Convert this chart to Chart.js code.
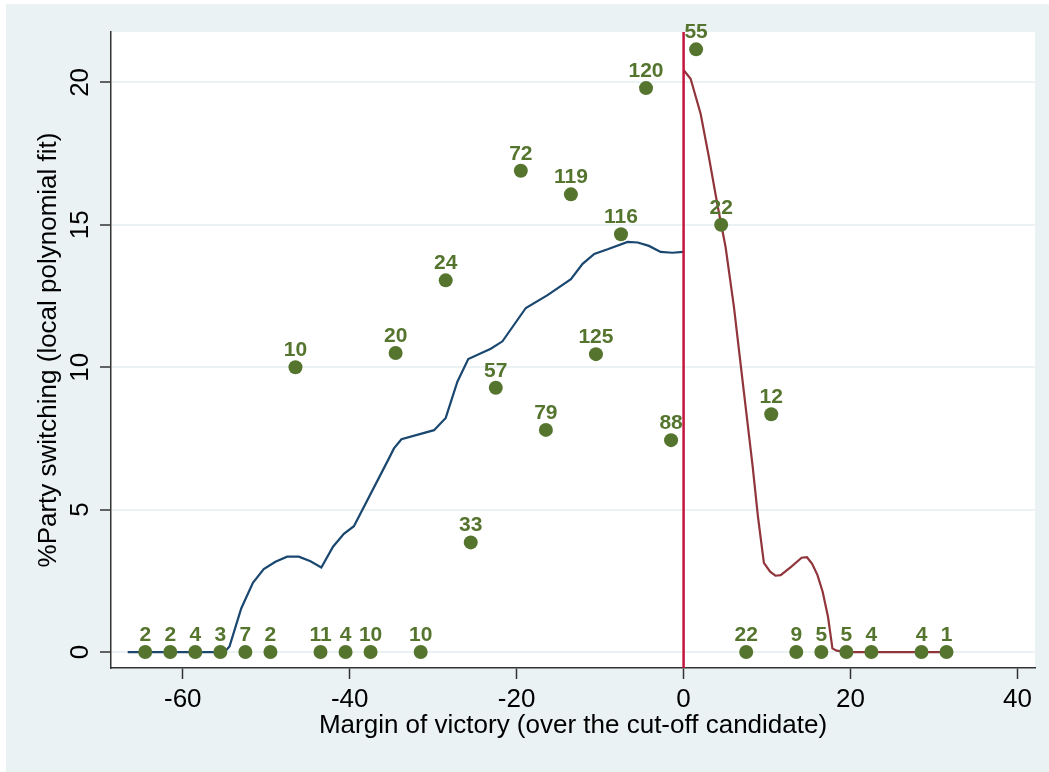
<!DOCTYPE html>
<html>
<head>
<meta charset="utf-8">
<script src="https://cdn.jsdelivr.net/npm/chart.js@4"></script>
<style>
  html, body { margin: 0; padding: 0; background: #fff; }
  canvas { display: block; }
</style>
</head>
<body>
<canvas id="rdChart" width="1049" height="772"></canvas>
<script>
// Bin means (margin of victory, % party switching) and number of cases per bin
const binX = [-64.5, -61.5, -58.5, -55.5, -52.5, -49.5, -46.5, -43.5, -40.5, -37.5, -34.5,
    -31.5, -28.5, -25.5, -22.5, -19.5, -16.5, -13.5, -10.5, -7.5, -4.5, -1.5,
    1.5, 4.5, 7.5, 10.5, 13.5, 16.5, 19.5, 22.5, 28.5, 31.5];
const binY = [0, 0, 0, 0, 0, 0, 10.0, 0, 0, 0, 10.5,
    0, 13.05, 3.85, 9.28, 16.9, 7.8, 16.07, 10.46, 14.67, 19.8, 7.44,
    21.16, 15.0, 0, 8.35, 0, 0, 0, 0, 0, 0];
const binN = [2, 2, 4, 3, 7, 2, 10, 11, 4, 10, 20,
    10, 24, 33, 57, 72, 79, 119, 125, 116, 120, 88,
    55, 22, 22, 12, 9, 5, 5, 4, 4, 1];

// local polynomial fit, left of the cut-off
const leftFitX = [-66.6, -55.0, -54.4, -53.0, -51.6, -50.3, -48.9, -47.5, -46.1, -44.7, -43.4,
    -42.0, -40.7, -39.5, -35.3, -34.7, -33.8, -29.9, -28.5, -27.1, -25.8, -23.1, -21.7,
    -18.9, -16.3, -13.5, -12.1, -10.7, -9.1, -6.7, -5.5, -4.15, -2.75, -1.35, 0];
const leftFitY = [0, 0, 0.2, 1.53, 2.43, 2.91, 3.17, 3.35, 3.35, 3.19, 2.97,
    3.7, 4.15, 4.42, 6.8, 7.15, 7.47, 7.79, 8.22, 9.49, 10.29, 10.65, 10.91,
    12.08, 12.53, 13.09, 13.63, 13.98, 14.14, 14.4, 14.38, 14.26, 14.05, 14.02, 14.05];

// local polynomial fit, right of the cut-off
const rightFitX = [0.04, 0.84, 2.04, 3.03, 4.03, 5.03, 6.03, 7.2, 8.28, 8.91, 9.62, 10.37,
    11.0, 11.63, 12.88, 14.14, 14.78, 15.4, 16.04, 16.66, 17.3, 17.83, 18.34, 19.6, 31.5];
const rightFitY = [20.42, 20.13, 18.9, 17.38, 15.74, 14.22, 12.12, 9.19, 6.5, 4.75, 3.13, 2.82,
    2.68, 2.7, 2.99, 3.31, 3.33, 3.1, 2.7, 2.12, 1.24, 0.13, 0.05, 0, 0];

const xTicks = [-60, -40, -20, 0, 20, 40];
const yTicks = [0, 5, 10, 15, 20];
const xRange = [-68.6, 42.1];
const yRange = [-0.56, 21.77];
const cutoff = 0;

const FONT = '"Liberation Sans", Arial, Helvetica, sans-serif';
const panelColor = '#eaf2f3';
const green = '#55752f';

const toPoints = (xs, ys) => xs.map((x, i) => ({x: x, y: ys[i]}));

// background: white border, bluish graph region, white plot region
const backgroundPlugin = {
    id: 'stataBackground',
    beforeDraw(chart) {
        const ctx = chart.ctx;
        const a = chart.chartArea;
        ctx.save();
        ctx.fillStyle = '#ffffff';
        ctx.fillRect(0, 0, chart.width, chart.height);
        ctx.fillStyle = panelColor;
        ctx.fillRect(6, 4, chart.width - 6, chart.height - 4);
        ctx.fillStyle = '#ffffff';
        ctx.fillRect(a.left, a.top, a.right - a.left, a.bottom - a.top);
        ctx.restore();
    }
};

// counts written above each bin marker
const binLabelPlugin = {
    id: 'binLabels',
    afterDatasetsDraw(chart) {
        const ctx = chart.ctx;
        const meta = chart.getDatasetMeta(0);
        ctx.save();
        ctx.font = 'bold 21px ' + FONT;
        ctx.fillStyle = green;
        ctx.textAlign = 'center';
        ctx.textBaseline = 'alphabetic';
        meta.data.forEach((pt, i) => {
            ctx.fillText(String(binN[i]), pt.x, pt.y - 11);
        });
        ctx.restore();
    }
};

// Stata style vertical y tick labels
const yLabelPlugin = {
    id: 'rotatedYLabels',
    afterDraw(chart) {
        const ctx = chart.ctx;
        const y = chart.scales.y;
        ctx.save();
        ctx.font = '26px ' + FONT;
        ctx.fillStyle = '#000';
        ctx.textAlign = 'center';
        ctx.textBaseline = 'middle';
        y.ticks.forEach(t => {
            ctx.save();
            ctx.translate(81, y.getPixelForValue(t.value));
            ctx.rotate(-Math.PI / 2);
            ctx.fillText(String(t.value), 0, 0);
            ctx.restore();
        });
        ctx.restore();
    }
};

const rdChart = new Chart(document.getElementById('rdChart').getContext('2d'), {
    type: 'scatter',
    data: {
        datasets: [{
            label: 'Bins',
            data: toPoints(binX, binY),
            backgroundColor: green,
            borderWidth: 0,
            pointRadius: 7,
            order: 0
        }, {
            label: 'Cut-off',
            data: [{x: cutoff, y: yRange[0]}, {x: cutoff, y: yRange[1]}],
            showLine: true,
            borderColor: '#c4143e',
            borderWidth: 2.5,
            pointRadius: 0,
            order: 1
        }, {
            label: 'Fit left',
            data: toPoints(leftFitX, leftFitY),
            showLine: true,
            borderColor: '#1a476f',
            borderWidth: 2.2,
            pointRadius: 0,
            order: 2
        }, {
            label: 'Fit right',
            data: toPoints(rightFitX, rightFitY),
            showLine: true,
            borderColor: '#90353b',
            borderWidth: 2.2,
            pointRadius: 0,
            order: 2
        }]
    },
    options: {
        responsive: false,
        devicePixelRatio: 1,
        animation: false,
        layout: { padding: { top: 32, right: 14, bottom: 0, left: 0 } },
        plugins: {
            legend: { display: false },
            tooltip: { enabled: false }
        },
        scales: {
            x: {
                type: 'linear',
                min: xRange[0],
                max: xRange[1],
                afterBuildTicks: s => { s.ticks = xTicks.map(v => ({value: v})); },
                afterFit: s => { s.height = 104; },
                grid: { drawOnChartArea: false, drawTicks: true, tickLength: 11, tickColor: '#333', tickWidth: 1.5 },
                border: { display: true, color: '#333', width: 1.5 },
                ticks: { color: '#000', padding: 5, font: { family: FONT, size: 26 } },
                title: {
                    display: true,
                    text: 'Margin of victory (over the cut-off candidate)',
                    color: '#000',
                    font: { family: FONT, size: 26 },
                    padding: { top: 0, bottom: 31 }
                }
            },
            y: {
                type: 'linear',
                min: yRange[0],
                max: yRange[1],
                afterBuildTicks: s => { s.ticks = yTicks.map(v => ({value: v})); },
                afterFit: s => { s.width = 111; },
                grid: { color: panelColor, lineWidth: 2, drawTicks: true, tickLength: 11, tickColor: '#333', tickWidth: 1.5 },
                border: { display: true, color: '#333', width: 1.5 },
                ticks: { display: false },
                title: {
                    display: true,
                    text: '%Party switching (local polynomial fit)',
                    color: '#000',
                    font: { family: FONT, size: 26 },
                    padding: { top: 33, bottom: 0 }
                }
            }
        }
    },
    plugins: [backgroundPlugin, binLabelPlugin, yLabelPlugin]
});
</script>
</body>
</html>
